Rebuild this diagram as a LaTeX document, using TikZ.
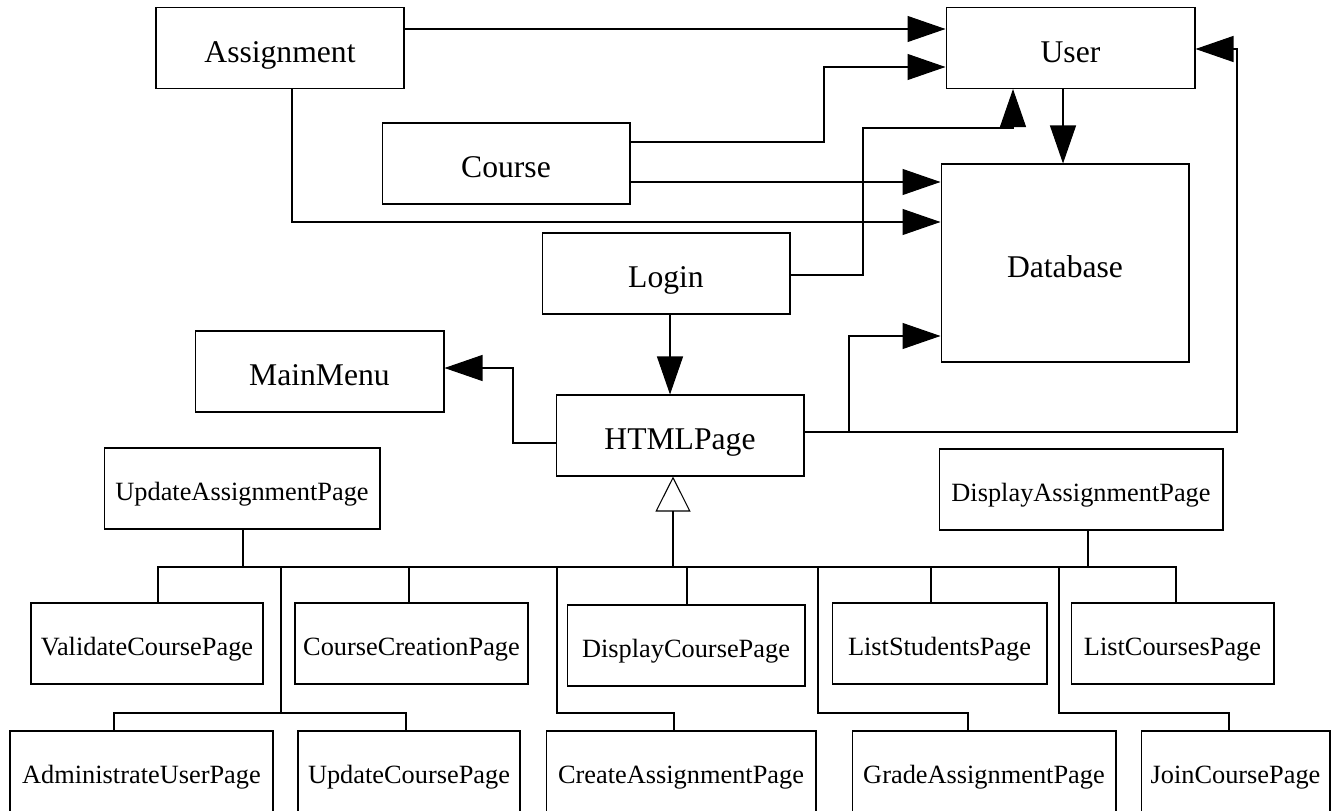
\documentclass[tikz,border=0pt]{standalone}
\usepackage{fontspec}
\setmainfont{Liberation Serif}
\usepackage{tikz}
\usetikzlibrary{arrows.meta}

\begin{document}
\begin{tikzpicture}[x=0.02cm, y=-0.02cm, line width=0.6pt,
        cls/.style={draw, inner sep=0pt, minimum height=1.62cm, text height=0.63cm, text depth=0.065cm, font=\fontsize{18}{20}\selectfont},
        page/.style={draw, inner sep=0pt, minimum height=1.62cm, text height=0.53cm, text depth=0.07cm, font=\fontsize{15}{17}\selectfont},
        arr/.style={-{Triangle[length=0.76cm, width=0.52cm]}},
        gen/.style={-{Triangle[open, length=0.7cm, width=0.7cm, fill=white]}}]
        \useasboundingbox (0, 0) rectangle (1332, 811);

        \node[cls, minimum width=4.96cm] (assignment) at (280, 48) {Assignment};
        \node[cls, minimum width=4.98cm] (user) at (1070.5, 48) {User};
        \node[cls, minimum width=4.96cm] (course) at (506, 163.5) {Course};
        \node[cls, minimum width=4.96cm, minimum height=3.96cm] (database) at (1065, 263) {Database};
        \node[cls, minimum width=4.96cm] (login) at (666, 273.5) {Login};
        \node[cls, minimum width=4.98cm] (mainmenu) at (319.5, 371.5) {MainMenu};
        \node[cls, minimum width=4.96cm] (htmlpage) at (680, 435.5) {HTMLPage};

        \node[page, minimum width=5.52cm] (updassign) at (242, 488.5) {UpdateAssignmentPage};
        \node[page, minimum width=5.68cm] (dispassign) at (1081, 489.5) {DisplayAssignmentPage};
        \node[page, minimum width=4.64cm] (validate) at (147, 643.5) {ValidateCoursePage};
        \node[page, minimum width=4.66cm] (creation) at (411.5, 643.5) {CourseCreationPage};
        \node[page, minimum width=4.76cm] (dispcourse) at (686, 645.5) {DisplayCoursePage};
        \node[page, minimum width=4.30cm] (students) at (939.5, 643.5) {ListStudentsPage};
        \node[page, minimum width=4.06cm] (courses) at (1172.5, 643.5) {ListCoursesPage};
        \node[page, minimum width=5.26cm] (admin) at (141.5, 771.5) {AdministrateUserPage};
        \node[page, minimum width=4.44cm] (updcourse) at (409, 771.5) {UpdateCoursePage};
        \node[page, minimum width=5.40cm] (createassign) at (681, 771.5) {CreateAssignmentPage};
        \node[page, minimum width=5.28cm] (grade) at (984, 771.5) {GradeAssignmentPage};
        \node[page, minimum width=3.78cm] (join) at (1235.5, 771.5) {JoinCoursePage};

        \draw[arr] (assignment.east |- 0,29) -- (user.west |- 0,29);
        \draw[arr] (course.east |- 0,142) -| (824, 67) -- (user.west |- 0,67);
        \draw[arr] (course.east |- 0,182) -- (database.west |- 0,182);
        \draw[arr] (assignment.south -| 292,0) |- (database.west |- 0,222);
        \draw[arr] (login.east |- 0,275) -| (863, 128) -| (user.south -| 1013,0);
        \draw[arr] (user.south -| 1063,0) -- (database.north -| 1063,0);
        \draw[arr] (login.south -| 670,0) -- (htmlpage.north -| 670,0);
        \draw[arr] (htmlpage.west |- 0,443) -| (513, 368) -- (mainmenu.east |- 0,368);
        \draw[arr] (htmlpage.east |- 0,432) -| (849, 336) -- (database.west |- 0,336);
        \draw[arr] (htmlpage.east |- 0,432) -| (1237, 49) -- (user.east |- 0,49);

        \draw (validate.north -| 158,0) |- (1176, 567) -- (courses.north -| 1176,0);
        \draw[gen] (673, 567) -- (htmlpage.south -| 673,0);
        \draw (updassign.south -| 243,0) -- (243, 567);
        \draw (dispassign.south -| 1088,0) -- (1088, 567);
        \draw (409, 567) -- (creation.north -| 409,0);
        \draw (687, 567) -- (dispcourse.north -| 687,0);
        \draw (931, 567) -- (students.north -| 931,0);
        \draw (281, 567) -- (281, 713);
        \draw (admin.north -| 114,0) |- (406, 713) -- (updcourse.north -| 406,0);
        \draw (557, 567) |- (674, 713) -- (createassign.north -| 674,0);
        \draw (818, 567) |- (968, 713) -- (grade.north -| 968,0);
        \draw (1059, 567) |- (1229, 713) -- (join.north -| 1229,0);
    \end{tikzpicture}
\end{document}
